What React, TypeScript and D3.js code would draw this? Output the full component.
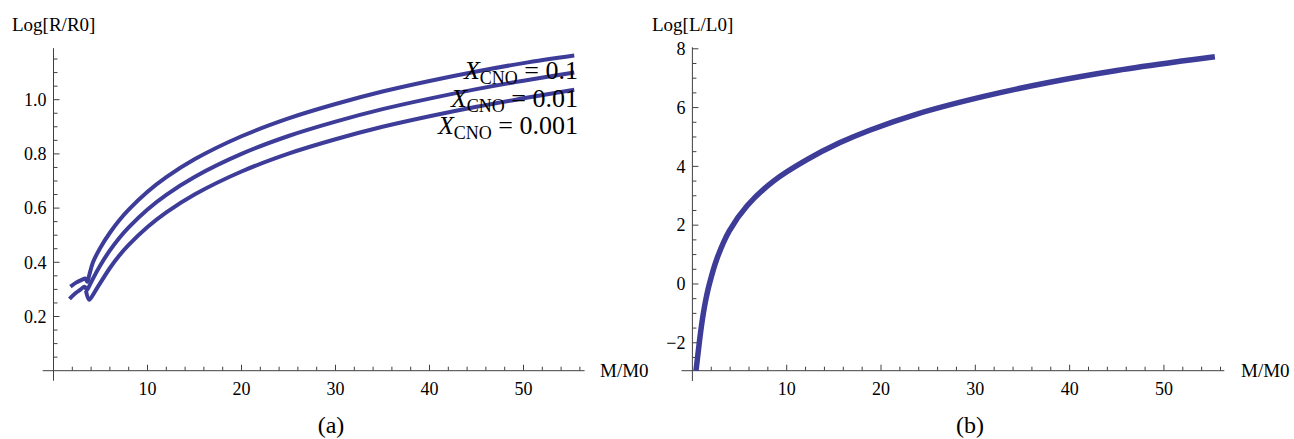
import React from 'react';
import * as d3 from 'd3';

// left panel: Log[R/R0] vs M/M0 for three CNO abundances
const massR1 = [1.8, 2.4, 3.0, 3.4, 3.6, 3.8, 4.2, 5, 6, 7, 8, 10, 12, 15, 20, 25, 30, 35, 40, 45, 50, 55.4];
const logR1 = [0.31, 0.325, 0.335, 0.34, 0.328, 0.352, 0.4, 0.455, 0.509, 0.555, 0.594, 0.66, 0.714, 0.78, 0.865, 0.931, 0.984, 1.03, 1.069, 1.104, 1.135, 1.163];
const massR2 = [1.7, 2.3, 2.9, 3.3, 3.55, 3.8, 4.2, 5, 6, 7, 8, 10, 12, 15, 20, 25, 30, 35, 40, 45, 50, 55.4];
const logR2 = [0.265, 0.285, 0.3, 0.31, 0.298, 0.312, 0.34, 0.39, 0.444, 0.49, 0.529, 0.595, 0.649, 0.715, 0.8, 0.866, 0.919, 0.965, 1.004, 1.039, 1.07, 1.1];
const massR3 = [3.45, 3.8, 4.2, 4.6, 5, 6, 7, 8, 10, 12, 15, 20, 25, 30, 35, 40, 45, 50, 55.4];
const logR3 = [0.295, 0.262, 0.28, 0.303, 0.325, 0.379, 0.425, 0.464, 0.53, 0.584, 0.65, 0.735, 0.801, 0.854, 0.9, 0.939, 0.974, 1.005, 1.037];
const seriesNames = ['0.1', '0.01', '0.001'];

// right panel: Log[L/L0] vs M/M0
const massL = [0.38, 0.55, 0.73, 0.95, 1.16, 1.4, 1.8, 2.6, 3.9, 5.8, 8.6, 12.1, 15.6, 18.8, 23.8, 30.9, 37.9, 45, 52.1, 55.4];
const logL = [-2.95, -2.49, -2.0, -1.45, -1.0, -0.57, 0.0, 0.86, 1.8, 2.66, 3.5, 4.22, 4.8, 5.23, 5.78, 6.38, 6.86, 7.26, 7.59, 7.73];

const xMajor = [10, 20, 30, 40, 50];
const xMinor = d3.range(2, 57, 2);
const yMajorR = [0.2, 0.4, 0.6, 0.8, 1.0];
const yMinorR = d3.range(0.05, 1.17, 0.05);
const yMajorL = [-2, 0, 2, 4, 6, 8];
const yMinorL = d3.range(-2.5, 8.01, 0.5);

const FONT = '"Liberation Serif", "Times New Roman", serif';
const LINE = '#3d3d99';
const AXIS = '#404040';

type Sc = d3.ScaleLinear<number, number>;

function Axes({ x, y, x0, x1, y0, y1, yAt, xAt, yMajor, yMinor, fmt, xLabel, yLabel, yLabelX }: {
  x: Sc; y: Sc; x0: number; x1: number; y0: number; y1: number; yAt: number; xAt: number;
  yMajor: number[]; yMinor: number[]; fmt: (v: number) => string; xLabel: number; yLabel: string; yLabelX: number;
}) {
  const ay = y(yAt);
  const ax = x(xAt);
  return (
    <g fontFamily={FONT} fill="#000">
      <line x1={x(x0)} x2={x(x1)} y1={ay} y2={ay} stroke={AXIS} strokeWidth={1} />
      <line x1={ax} x2={ax} y1={y(y0)} y2={y(y1)} stroke={AXIS} strokeWidth={1} />
      {xMinor.map(v => (
        <line key={'xm' + v} x1={x(v)} x2={x(v)} y1={ay} y2={ay - (xMajor.includes(v) ? 6 : 4)} stroke={AXIS} />
      ))}
      {xMajor.map(v => (
        <text key={'xt' + v} x={x(v)} y={ay + 24} fontSize={18} textAnchor="middle">{v}</text>
      ))}
      {yMinor.map(v => {
        const major = yMajor.some(m => Math.abs(m - v) < 1e-6);
        return <line key={'ym' + v} x1={ax} x2={ax + (major ? 6 : 4)} y1={y(v)} y2={y(v)} stroke={AXIS} />;
      })}
      {yMajor.map(v => (
        <text key={'yt' + v} x={ax - 7} y={y(v)} dy="0.35em" fontSize={18} textAnchor="end">{fmt(v)}</text>
      ))}
      <text x={xLabel} y={ay + 6} fontSize={19}>M/M0</text>
      <text x={yLabelX} y={30.5} fontSize={19}>{yLabel}</text>
    </g>
  );
}

export default function App() {
  const xl = d3.scaleLinear().domain([0, 56.5]).range([53.5, 584.6]);
  const yl = d3.scaleLinear().domain([0, 1.19]).range([370.7, 48.2]);
  const xr = d3.scaleLinear().domain([0, 56.4]).range([692.4, 1224.3]);
  const yr = d3.scaleLinear().domain([-2.95, 8.05]).range([370.7, 47.3]);

  const lineL = d3.line<[number, number]>().x(d => xl(d[0])).y(d => yl(d[1])).curve(d3.curveCatmullRom.alpha(0.5));
  const lineR = d3.line<[number, number]>().x(d => xr(d[0])).y(d => yr(d[1])).curve(d3.curveCatmullRom.alpha(0.5));

  const left: [number, number][][] = [
    massR1.map((m, i) => [m, logR1[i]]),
    massR2.map((m, i) => [m, logR2[i]]),
    massR3.map((m, i) => [m, logR3[i]]),
  ];
  const right: [number, number][] = massL.map((m, i) => [m, logL[i]]);

  const minus = (v: number) => (v < 0 ? '\u2212' + Math.abs(v) : String(v));

  return (
    <svg width={1294} height={439} style={{ position: 'absolute', left: 0, top: 0, background: '#fff' }}>
      <Axes x={xl} y={yl} x0={-1.15} x1={56.5} y0={-0.037} y1={1.19} yAt={0} xAt={0}
        yMajor={yMajorR} yMinor={yMinorR} fmt={v => v.toFixed(1)} xLabel={600} yLabel="Log[R/R0]" yLabelX={12} />
      <Axes x={xr} y={yr} x0={-1.15} x1={56.4} y0={-3.3} y1={8.05} yAt={-2.95} xAt={0}
        yMajor={yMajorL} yMinor={yMinorL} fmt={minus} xLabel={1241} yLabel="Log[L/L0]" yLabelX={652} />

      {left.map((d, i) => (
        <path key={i} d={lineL(d) || ''} fill="none" stroke={LINE} strokeWidth={4} />
      ))}
      <path d={lineR(right) || ''} fill="none" stroke={LINE} strokeWidth={5.5} />

      <g fontFamily={FONT} fontSize={26} textAnchor="end">
        {seriesNames.map((s, i) => (
          <text key={s} x={578} y={79 + i * 27.5}>
            <tspan fontStyle="italic">X</tspan>
            <tspan fontSize={18} dy={5}>CNO</tspan>
            <tspan dy={-5}>{' = ' + s}</tspan>
          </text>
        ))}
      </g>

      <g fontFamily={FONT} fontSize={24} textAnchor="middle">
        <text x={331} y={433}>(a)</text>
        <text x={970} y={433}>(b)</text>
      </g>
    </svg>
  );
}
